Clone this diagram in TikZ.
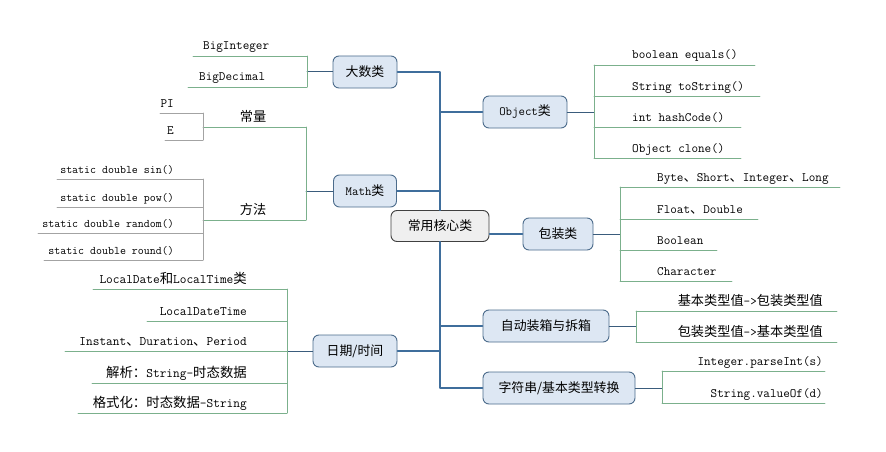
\documentclass[tikz,border=0pt]{standalone}
\usepackage{fontspec}
\newfontfamily\cjk[Scale=1.03]{Noto Sans CJK SC}
\newcommand{\zh}[1]{{\cjk #1}}
\usepackage{tikz}
\usetikzlibrary{positioning}

\definecolor{trunkblue}{HTML}{3F6E9C}
\definecolor{stubblue}{HTML}{3A5C7C}
\definecolor{leafgreen}{HTML}{7BB08C}
\definecolor{leafgray}{HTML}{A3A3A3}
\definecolor{boxfill}{HTML}{DDE7F3}
\definecolor{boxline}{HTML}{4C6C8C}
\definecolor{corefill}{HTML}{EFEFEF}

\tikzset{
	topic/.style={draw=boxline, fill=boxfill, rounded corners=6pt, line width=0.9pt,
		minimum height=32pt, inner sep=0pt, font=\fontsize{12.5}{14}\ttfamily},
	coretopic/.style={topic, draw=black!75, fill=corefill},
	trunk/.style={draw=trunkblue, line width=1.3pt},
	stub/.style={draw=stubblue, line width=1pt},
	leafline/.style={draw=leafgreen, line width=0.9pt},
	subline/.style={draw=leafgray, line width=0.9pt},
	leaf/.style={inner sep=0pt, font=\fontsize{12.8}{14}\ttfamily},
}

\begin{document}
\begin{tikzpicture}[x=1pt, y=-1pt, line cap=round, line join=round]
	\useasboundingbox[fill=white] (0,0) rectangle (886,452);
	
	% topics
	\node[coretopic, minimum width=98pt, minimum height=31pt] (core) at (440,226) {\zh{常用核心类}};
	\node[topic, minimum width=64pt] (dashu) at (365,72) {\zh{大数类}};
	\node[topic, minimum width=84pt] (obj) at (525,112) {Object\zh{类}};
	\node[topic, minimum width=63pt] (math) at (365,191) {Math\zh{类}};
	\node[topic, minimum width=70pt] (bzl) at (558,234) {\zh{包装类}};
	\node[topic, minimum width=126pt] (auto) at (546,326) {\zh{自动装箱与拆箱}};
	\node[topic, minimum width=152pt] (zfc) at (559,388) {\zh{字符串/基本类型转换}};
	\node[topic, minimum width=84pt] (date) at (355,351) {\zh{日期/时间}};
	
	% trunk
	\draw[trunk] (dashu.east) -| (core.north);
	\draw[trunk] (math.east) -| (core.north);
	\draw[trunk] (obj.west) -| (core.north);
	\draw[trunk] (zfc.west) -| (core.south);
	\draw[trunk] (auto.west) -| (core.south);
	\draw[trunk] (date.east) -| (core.south);
	\draw[trunk] (core.east |- bzl.west) -- (bzl.west);
	
	% big numbers
	\draw[stub] (dashu.west) -- (307,72);
	\draw[leafline] (307,56) -- (307,87);
	\draw[leafline] (193,56) -- (307,56);
	\draw[leafline] (188,87) -- (307,87);
	\node[leaf, anchor=base west] (bigint) at (203,50) {BigInteger};
	\node[leaf, anchor=base west] (bigdec) at (199,81) {BigDecimal};
	
	% Object
	\draw[stub] (obj.east) -- (594,112);
	\draw[leafline] (594,65) -- (594,158);
	\foreach \yy/\xe/\txt [count=\i] in {65/755/{boolean equals()}, 96/760/{String toString()},
		127/741/{int hashCode()}, 158/741/{Object clone()}} {
		\draw[leafline] (594,\yy) -- (\xe,\yy);
		\node[leaf, anchor=base west] (obj-\i) at (632,\yy-6) {\txt};
	}
	
	% Math
	\draw[stub] (math.west) -- (306,191);
	\draw[leafline] (306,127) -- (306,220);
	\draw[leafline] (203,127) -- (306,127);
	\draw[leafline] (203,220) -- (306,220);
	\node[leaf, anchor=base] (changliang) at (253,121) {\zh{常量}};
	\node[leaf, anchor=base] (fangfa) at (253,214) {\zh{方法}};
	
	\draw[subline] (203,113) -- (203,140);
	\draw[subline] (160,113) -- (203,113);
	\draw[subline] (165,140) -- (203,140);
	\node[leaf, anchor=base east] (pi) at (174,107) {PI};
	\node[leaf, anchor=base east] (e) at (174,134) {E};
	
	\draw[subline] (203,179) -- (203,260);
	\foreach \yy/\xs/\txt [count=\i] in {179/57/{static double sin()}, 207/57/{static double pow()},
		233/38/{static double random()}, 260/44/{static double round()}} {
		\draw[subline] (\xs,\yy) -- (203,\yy);
		\node[leaf, font=\fontsize{11.6}{13}\ttfamily, anchor=base east] (fn-\i) at (174,\yy-6) {\txt};
	}
	
	% wrappers
	\draw[stub] (bzl.east) -- (620,234);
	\draw[leafline] (620,187) -- (620,281);
	\foreach \yy/\xe/\txt [count=\i] in {187/840/{Byte\zh{、}Short\zh{、}Integer\zh{、}Long},
		219/758/{Float\zh{、}Double}, 250/717/{Boolean}, 281/732/{Character}} {
		\draw[leafline] (620,\yy) -- (\xe,\yy);
		\node[leaf, anchor=base west] (bzl-\i) at (657,\yy-6) {\txt};
	}
	
	% boxing
	\draw[stub] (auto.east) -- (636,326);
	\draw[leafline] (636,311) -- (636,342);
	\foreach \yy/\txt [count=\i] in {311/{\zh{基本类型值}->\zh{包装类型值}}, 342/{\zh{包装类型值}->\zh{基本类型值}}} {
		\draw[leafline] (636,\yy) -- (837,\yy);
		\node[leaf, anchor=base east] (auto-\i) at (823,\yy-6) {\txt};
	}
	
	% string conversion
	\draw[stub] (zfc.east) -- (662,388);
	\draw[leafline] (662,371) -- (662,403);
	\foreach \yy/\txt [count=\i] in {371/{Integer.parseInt(s)}, 403/{String.valueOf(d)}} {
		\draw[leafline] (662,\yy) -- (825,\yy);
		\node[leaf, anchor=base east] (zfc-\i) at (823,\yy-6) {\txt};
	}
	
	% date / time
	\draw[stub] (date.west) -- (287,351);
	\draw[leafline] (287,289) -- (287,413);
	\foreach \yy/\xs/\txt [count=\i] in {289/93/{LocalDate\zh{和}LocalTime\zh{类}}, 321/147/{LocalDateTime},
		351/65/{Instant\zh{、}Duration\zh{、}Period}, 383/92/{\zh{解析：}String-\zh{时态数据}},
		413/78/{\zh{格式化：时态数据}-String}} {
		\draw[leafline] (\xs,\yy) -- (287,\yy);
		\node[leaf, font=\fontsize{13}{15}\ttfamily, anchor=base east] (date-\i) at (247,\yy-6) {\txt};
	}
\end{tikzpicture}
\end{document}
